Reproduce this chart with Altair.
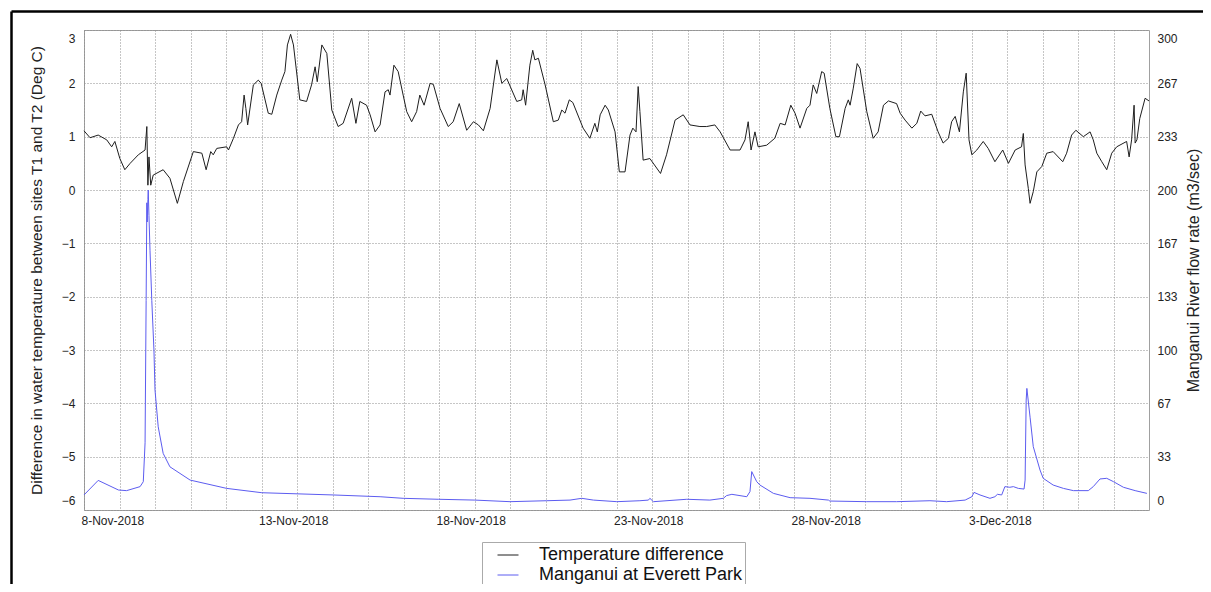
import altair as alt
import pandas as pd

start_date = "2018-11-08"
n_days = 30

# Temperature difference (Deg C) : days since 8-Nov-2018 00:00
temp_days = [0.00, 0.17, 0.40, 0.64, 0.78, 0.87, 1.01, 1.15, 1.30, 1.53, 1.72, 1.77, 1.80, 1.83, 1.88, 1.95,
             2.23, 2.42, 2.63, 2.80, 3.08, 3.32, 3.44, 3.57, 3.64, 3.74, 4.02, 4.07, 4.21, 4.35, 4.44, 4.51,
             4.56, 4.61, 4.77, 4.91, 4.99, 5.19, 5.29, 5.43, 5.57, 5.66, 5.73, 5.82, 5.90, 6.08, 6.27, 6.41,
             6.51, 6.57, 6.70, 6.84, 6.98, 7.16, 7.30, 7.54, 7.66,
             7.77, 7.96, 8.06, 8.20, 8.34, 8.48, 8.57, 8.62, 8.73, 8.85, 8.99, 9.09, 9.23, 9.37, 9.46, 9.58,
             9.75, 9.84, 10.03, 10.26, 10.40, 10.57, 10.78, 10.97, 11.11, 11.25, 11.44, 11.63, 11.77, 11.91,
             12.19, 12.33, 12.37, 12.44, 12.56, 12.64, 12.70, 12.80, 12.99, 13.22, 13.36, 13.46, 13.55, 13.67,
             13.77, 14.06, 14.25, 14.39, 14.46, 14.54, 14.68, 14.77, 14.96, 15.08, 15.24, 15.38, 15.46, 15.55,
             15.61, 15.66, 15.75, 15.94, 16.24, 16.41, 16.65, 16.88, 17.07, 17.35, 17.54, 17.77, 17.92, 18.20,
             18.48, 18.62, 18.71, 18.79, 18.90, 18.99, 19.23, 19.46, 19.61, 19.75, 19.91, 20.03, 20.17, 20.36,
             20.45, 20.54, 20.64, 20.78, 20.85, 21.01, 21.18, 21.28, 21.44, 21.53, 21.58, 21.67, 21.78, 21.86,
             22.05, 22.23, 22.37, 22.52, 22.66, 22.89, 22.99, 23.13, 23.32, 23.46, 23.57, 23.69, 23.88, 24.06,
             24.20, 24.35, 24.44, 24.54, 24.66, 24.77, 24.85, 24.93, 25.01, 25.15, 25.33, 25.47, 25.66, 25.88,
             26.04, 26.23, 26.41, 26.46, 26.51, 26.60, 26.65, 26.74, 26.84, 26.98, 27.12, 27.30, 27.57, 27.68,
             27.82, 27.94, 28.15, 28.34, 28.43, 28.53, 28.67, 28.81, 28.95, 29.09, 29.37, 29.44, 29.51, 29.58,
             29.61, 29.66, 29.74, 29.89, 30.00]
temp_vals = [1.11, 0.98, 1.03, 0.94, 0.81, 0.91, 0.59, 0.38, 0.50, 0.66, 0.75, 1.19, 0.09, 0.62, 0.09, 0.28,
             0.38, 0.22, -0.25, 0.16, 0.72, 0.69, 0.38, 0.72, 0.66, 0.78, 0.81, 0.75, 0.97, 1.22, 1.28, 1.78,
             1.53, 1.22, 1.97, 2.06, 2.00, 1.44, 1.42, 1.78, 2.06, 2.22, 2.72, 2.92, 2.72, 1.69, 1.66, 1.97,
             2.31, 2.03, 2.72, 2.56, 1.50, 1.19, 1.25, 1.72, 1.25,
             1.66, 1.59, 1.41, 1.09, 1.22, 1.84, 1.88, 1.78, 2.34, 2.22, 1.78, 1.47, 1.28, 1.47, 1.78, 1.59,
             2.00, 1.98, 1.53, 1.19, 1.28, 1.62, 1.12, 1.28, 1.22, 1.11, 1.53, 2.44, 2.00, 2.09,
             1.66, 1.69, 1.88, 1.59, 2.34, 2.62, 2.44, 2.47, 1.97, 1.28, 1.31, 1.50, 1.44, 1.69,
             1.64, 1.16, 0.97, 1.25, 1.09, 1.41, 1.59, 1.50, 1.09, 0.34, 0.34, 1.03, 1.16, 1.09,
             1.94, 1.47, 0.56, 0.59, 0.31, 0.66, 1.31, 1.41, 1.22, 1.19, 1.19, 1.22, 1.09, 0.75,
             0.75, 0.94, 1.28, 0.75, 1.09, 0.81, 0.84, 0.97, 1.25, 1.22, 1.59, 1.44, 1.16, 1.53,
             1.59, 1.97, 1.81, 2.22, 2.19, 1.53, 1.00, 1.00, 1.53, 1.69, 1.59, 1.91, 2.37, 2.28,
             1.47, 0.97, 1.09, 1.59, 1.67, 1.62, 1.44, 1.31, 1.16, 1.25, 1.48, 1.39, 1.42, 1.09,
             0.88, 0.97, 1.28, 1.38, 1.09, 1.84, 2.19, 0.94, 0.66, 0.75, 0.91, 0.78, 0.53, 0.75,
             0.50, 0.75, 0.81, 1.06, 0.47, 0.03, -0.25, -0.03, 0.34, 0.44, 0.69, 0.72, 0.53, 0.69,
             1.03, 1.12, 1.00, 1.09, 0.94, 0.69, 0.53, 0.38, 0.69, 0.81, 0.91, 0.62, 0.94, 1.59,
             0.88, 0.94, 1.34, 1.72, 1.67]

# Manganui at Everett Park flow (m3/sec)
flow_days = [0.00, 0.40, 0.97, 1.20, 1.58, 1.67, 1.72, 1.75, 1.77, 1.78, 1.80, 1.81, 1.83, 1.86, 1.91, 1.97,
             2.00, 2.09, 2.23, 2.42, 2.99, 4.02, 5.01, 7.02, 8.34, 8.99, 9.98, 11.01, 12.00, 13.03, 13.69,
             14.02, 14.35, 15.01, 15.66, 15.90, 15.94, 16.04, 16.98, 17.63, 18.01, 18.10, 18.25, 18.67, 18.76,
             18.81, 18.95, 19.04, 19.42, 19.89, 20.45, 20.97, 21.01, 22.05, 22.89, 23.83, 24.30, 24.82, 25.01,
             25.07, 25.24, 25.52, 25.66, 25.73, 25.85, 25.94, 26.08, 26.18, 26.32, 26.48, 26.51, 26.54, 26.56,
             26.65, 26.74, 26.93, 27.02, 27.30, 27.59, 27.87, 28.29, 28.43, 28.62, 28.81, 29.00, 29.28, 29.61,
             29.94]
flow_vals = [9.4, 18.5, 12.5, 12.1, 14.6, 17.7, 42.0, 131.0, 192.0, 180.0, 194.0, 200.0, 184.0, 162.0, 131.0, 100.0,
             75.0, 52.0, 35.4, 27.0, 18.7, 13.5, 10.8, 9.4, 8.3, 7.3, 6.7, 6.2, 5.2, 5.8, 6.2,
             7.3, 6.2, 5.2, 5.8, 6.2, 7.3, 5.2, 6.7, 6.2, 7.3, 9.0, 9.8, 8.3, 11.5,
             24.0, 17.7, 15.6, 10.4, 7.7, 7.3, 6.2, 5.6, 5.2, 5.2, 5.8, 5.2, 6.2, 8.3,
             11.0, 9.4, 7.3, 8.3, 9.8, 9.4, 14.6, 14.2, 14.6, 13.5, 13.1, 18.7, 68.7, 76.0,
             58.0, 39.6, 25.0, 19.8, 15.6, 13.5, 12.1, 12.1, 14.6, 19.4, 19.8, 17.7, 14.2, 12.1,
             10.4]

x_tick_labels = ["8-Nov-2018", "13-Nov-2018", "18-Nov-2018", "23-Nov-2018", "28-Nov-2018", "3-Dec-2018"]
left_ticks = [-6, -5, -4, -3, -2, -1, 0, 1, 2, 3]
right_ticks = [0, 33.33, 66.67, 100, 133.33, 166.67, 200, 233.33, 266.67, 300]
series = ["Temperature difference", "Manganui at Everett Park"]
colors = ["#1e1e1e", "#5c5cf0"]
left_title = "Difference in water temperature between sites T1 and T2 (Deg C)"
right_title = "Manganui River flow rate (m3/sec)"

t0 = pd.Timestamp(start_date)
temp_df = pd.DataFrame({
    "time": (t0 + pd.to_timedelta(temp_days, unit="D")).round("min"),
    "value": temp_vals, "series": series[0]})
flow_df = pd.DataFrame({
    "time": (t0 + pd.to_timedelta(flow_days, unit="D")).round("min"),
    "value": flow_vals, "series": series[1]})


def dt(ts):
    return alt.DateTime(year=ts.year, month=ts.month, date=ts.day)


grid_vals = [dt(t0 + pd.Timedelta(days=i)) for i in range(n_days)]
x_domain = [dt(t0), dt(t0 + pd.Timedelta(days=n_days))]
arr = "[" + ",".join("'" + s + "'" for s in x_tick_labels) + "]"
label_expr = f"indexof({arr}, datum.label) >= 0 ? datum.label : ''"

x_enc = alt.X("time:T", title=None,
              scale=alt.Scale(domain=x_domain, nice=False),
              axis=alt.Axis(values=grid_vals, format="%-d-%b-%Y", labelExpr=label_expr,
                            grid=True, labelAlign="left", labelOffset=-3, labelPadding=5,
                            labelFlush=False, labelOverlap=False, labelFontSize=12))

color_enc = alt.Color("series:N", scale=alt.Scale(domain=series, range=colors),
                      legend=alt.Legend(orient="none", legendX=398, legendY=512, title=None,
                                        symbolType="stroke", symbolSize=441, symbolStrokeWidth=1,
                                        labelFontSize=18, labelLimit=400, labelOffset=20,
                                        strokeColor="#aaaaaa", fillColor="white", padding=2,
                                        symbolOffset=13, rowPadding=-6, labelColor="#111"))

temp_line = alt.Chart(temp_df).mark_line(strokeWidth=1).encode(
    x=x_enc,
    y=alt.Y("value:Q", title=left_title,
            scale=alt.Scale(domain=[-6, 3], nice=False, zero=False),
            axis=alt.Axis(values=left_ticks, grid=True, labelPadding=9, labelFlush=True,
                          labelFlushOffset=-3, labelFontSize=12, titleFontSize=15.5,
                          titleX=-48, titleY=240, titleAngle=270, titleAlign="center",
                          titleBaseline="middle")),
    color=color_enc)

flow_line = alt.Chart(flow_df).mark_line(strokeWidth=1).encode(
    x=x_enc,
    y=alt.Y("value:Q", title=right_title,
            scale=alt.Scale(domain=[0, 300], nice=False, zero=False),
            axis=alt.Axis(orient="right", values=right_ticks, format=".0f", grid=False,
                          labelPadding=8, labelFlush=True, labelFlushOffset=-3, labelFontSize=12,
                          titleFontSize=16, titleX=44, titleY=240, titleAngle=270,
                          titleAlign="center", titleBaseline="middle")),
    color=color_enc)

frame_df = pd.DataFrame({"k": [0]})
frame_top = alt.Chart(frame_df).mark_rule(color="black", strokeWidth=2.5).encode(
    x=alt.value(-72.5), x2=alt.value(1140), y=alt.value(-18.5))
frame_left = alt.Chart(frame_df).mark_rule(color="black", strokeWidth=2.5).encode(
    x=alt.value(-72.5), y=alt.value(-18.5), y2=alt.value(600))

chart = alt.layer(temp_line, flow_line, frame_top, frame_left).resolve_scale(
    y="independent"
).properties(
    width=1065, height=480,
    padding={"left": 76, "top": 22, "right": 54, "bottom": 74},
    autosize=alt.AutoSizeParams(type="none"),
    background="white",
).configure(
    font="Liberation Sans"
).configure_view(
    stroke="#a0a0a0", strokeWidth=1
).configure_axis(
    gridColor="#8c8c8c", gridDash=[1, 2], gridWidth=1, domain=False, ticks=False,
    labelColor="#222222", titleColor="#222222", titleFontWeight="normal"
)

chart.save("out.html", embed_options={"renderer": "svg", "actions": False})
